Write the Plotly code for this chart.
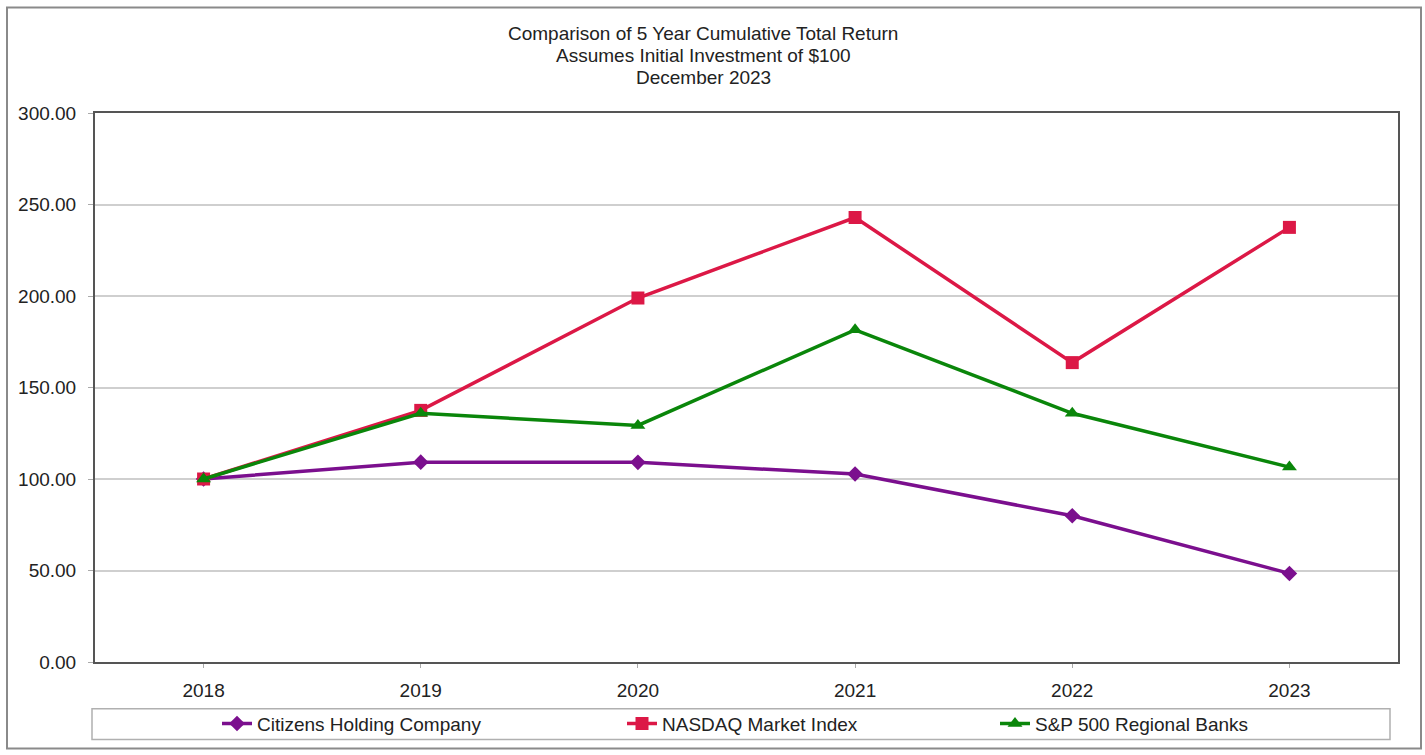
import plotly.graph_objects as go

years = ["2018", "2019", "2020", "2021", "2022", "2023"]
citizens = [100.0, 109.2, 109.1, 102.7, 79.9, 48.4]
nasdaq = [100.0, 137.5, 198.9, 242.9, 163.6, 237.5]
regional = [100.0, 135.9, 129.3, 181.5, 135.9, 106.5]
series_names = ["Citizens Holding Company", "NASDAQ Market Index", "S&P 500 Regional Banks"]
y_ticks = [0, 50, 100, 150, 200, 250, 300]
title_lines = ["Comparison of 5 Year Cumulative Total Return",
               "Assumes Initial Investment of $100",
               "December 2023"]

W, H = 1425, 755
L, R, T, B = 95, 27, 113, 90
PW, PH = W - L - R, H - T - B

def px(x):
    return (x - L) / PW

def py(y):
    return (H - B - y) / PH

FONT = "Liberation Sans, Arial, sans-serif"
FS = 19

fig = go.Figure()
styles = [
    (citizens, "#7B0F8E", "diamond", 12, "legend", 217),
    (nasdaq, "#DC1846", "square", 13, "legend2", 622),
    (regional, "#0A860A", "triangle-up", 13, "legend3", 995),
]
for name, (vals, col, sym, sz, lg, lx) in zip(series_names, styles):
    fig.add_trace(go.Scatter(
        x=years, y=vals, name=name, mode="lines+markers",
        line=dict(color=col, width=3.5),
        marker=dict(symbol=sym, size=sz, color=col),
        legend=lg,
    ))
    fig.update_layout({lg: dict(orientation="h", x=px(lx), xanchor="left", y=py(727), yanchor="middle",
                                bgcolor="rgba(0,0,0,0)", borderwidth=0,
                                font=dict(family=FONT, size=FS, color="#222"))})

for i, t in enumerate(title_lines):
    fig.add_annotation(text=t, xref="paper", yref="paper",
                       x=px(703), y=py(33 + 22 * i), xanchor="center", yanchor="middle",
                       showarrow=False, font=dict(family=FONT, size=FS, color="#222"))

# outer frame
fig.add_shape(type="rect", xref="paper", yref="paper",
              x0=px(7), x1=px(1421), y0=py(752), y1=py(7),
              line=dict(color="#8a8a8a", width=2), layer="below")
# legend frame
fig.add_shape(type="rect", xref="paper", yref="paper",
              x0=px(92), x1=px(1390), y0=py(743), y1=py(712),
              line=dict(color="#b0b0b0", width=1.5), layer="below")

fig.update_layout(
    width=W, height=H,
    margin=dict(l=L, r=R, t=T, b=B),
    paper_bgcolor="white", plot_bgcolor="white",
    font=dict(family=FONT, size=FS, color="#222"),
    showlegend=True,
    xaxis=dict(type="category", range=[-0.5, 5.5], showgrid=False,
               showline=True, linecolor="#555", linewidth=2, mirror=True,
               ticks="outside", ticklen=4, tickcolor="#aaa", ticklabelstandoff=6,
               tickfont=dict(size=FS, color="#222"),
               zeroline=False, fixedrange=True),
    yaxis=dict(range=[0, 300], tickvals=y_ticks, tickformat=".2f",
               showgrid=True, gridcolor="#cfcfcf", gridwidth=1.5,
               showline=True, linecolor="#555", linewidth=2, mirror=True,
               ticks="outside", ticklen=5, tickcolor="#aaa", ticklabelstandoff=8,
               tickfont=dict(size=FS, color="#222"),
               zeroline=False, fixedrange=True),
)

fig.write_html("out.html")
